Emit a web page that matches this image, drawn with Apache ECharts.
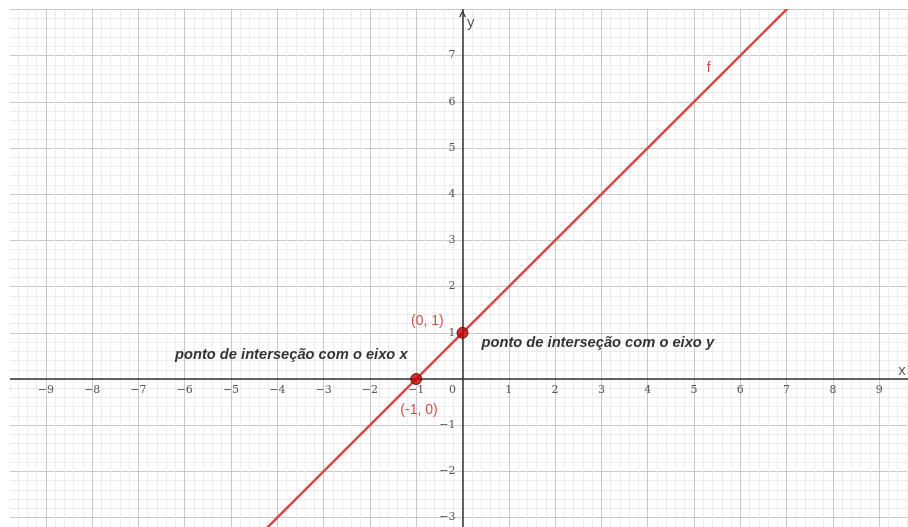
<!DOCTYPE html>
<html>
<head>
<meta charset="utf-8">
<script src="https://cdn.jsdelivr.net/npm/echarts@6/dist/echarts.min.js"></script>
<style>
  html, body { margin: 0; padding: 0; background: #fff; }
  #chart { width: 908px; height: 527px; }
</style>
</head>
<body>
<div id="chart"></div>
<script>
// f(x) = x + 1, two endpoints beyond the visible window
const lineF = [[-5, -4], [8, 9]];
// intersection points
const points = [[0, 1], [-1, 0]];
// annotations: text, anchor (data units), style key
const notes = [
  { text: "(0, 1)", at: [-0.76, 1.25], kind: "red" },
  { text: "(-1, 0)", at: [-0.94, -0.67], kind: "red" },
  { text: "f", at: [5.32, 6.73], kind: "red" },
  { text: "ponto de interseção com o eixo x", at: [-6.21, 0.52], kind: "bold" },
  { text: "ponto de interseção com o eixo y", at: [0.41, 0.78], kind: "bold" },
  { text: "x", at: [9.49, 0.17], kind: "axis" },
  { text: "y", at: [0.18, 7.71], kind: "axis" }
];
const xRange = [-10, 10];
const yRange = [-4, 8];

const chart = echarts.init(document.getElementById("chart"));

const serif = "DejaVu Serif, Liberation Serif, serif";
const tickFmt = v => (v === 0 ? "" : String(v).replace("-", "\u2212"));

const noteStyle = {
  red: { color: "#c81e1e", fontSize: 14, fontFamily: "Liberation Sans, Arial, sans-serif", align: "center" },
  bold: { color: "#000", fontSize: 14.7, fontWeight: "bold", fontStyle: "italic", fontFamily: "Liberation Sans, Arial, sans-serif", align: "left" },
  axis: { color: "#333", fontSize: 15, fontFamily: "Liberation Sans, Arial, sans-serif", align: "center" }
};

// grid is larger than the window so that whole-unit ticks start off screen
const grid = { left: -0.5, right: -17.5, top: 9.4, bottom: -36.8 };
const plotW = 908 - grid.left - grid.right;
const plotH = 527 - grid.top - grid.bottom;
// pixel distance from the grid edges to the zero lines
const xAxisOffset = -plotH * (0 - yRange[0]) / (yRange[1] - yRange[0]);
const yAxisOffset = -plotW * (0 - xRange[0]) / (xRange[1] - xRange[0]);

const option = {
  animation: false,
  backgroundColor: "#fff",
  grid: Object.assign({ containLabel: false, outerBoundsMode: "none" }, grid),
  xAxis: {
    type: "value",
    position: "bottom",
    offset: xAxisOffset,
    min: xRange[0],
    max: xRange[1],
    interval: 1,
    axisLine: { onZero: false, lineStyle: { color: "#333", width: 1.5 } },
    axisTick: { show: false },
    axisLabel: {
      margin: 6,
      color: "#555",
      fontSize: 11,
      fontFamily: serif,
      formatter: v => (v === 0 ? "{z|0}" : tickFmt(v)),
      rich: { z: { padding: [0, 20, 0, 0], color: "#555", fontSize: 11, fontFamily: serif } }
    },
    splitLine: { show: true, lineStyle: { color: "#c8c8c8", width: 1 } },
    minorTick: { show: false, splitNumber: 5 },
    minorSplitLine: { show: true, lineStyle: { color: "#ececec", width: 1 } }
  },
  yAxis: {
    type: "value",
    position: "left",
    offset: yAxisOffset,
    min: yRange[0],
    max: yRange[1],
    interval: 1,
    axisLine: {
      onZero: false,
      symbol: ["none", "path://M0,10 L5,0 L10,10 L8,10 L5,3.8 L2,10 Z"],
      symbolSize: [8, 7],
      symbolOffset: [0, -4],
      lineStyle: { color: "#333", width: 1.5 }
    },
    axisTick: { show: false },
    axisLabel: {
      margin: 7,
      color: "#555",
      fontSize: 11,
      fontFamily: serif,
      formatter: v => (v === yRange[1] ? "" : tickFmt(v))
    },
    splitLine: { show: true, lineStyle: { color: "#c8c8c8", width: 1 } },
    minorTick: { show: false, splitNumber: 5 },
    minorSplitLine: { show: true, lineStyle: { color: "#ececec", width: 1 } }
  },
  series: [
    {
      name: "f",
      type: "line",
      data: lineF,
      symbol: "none",
      lineStyle: { color: "#d64848", width: 2.5 },
      z: 3
    },
    {
      type: "scatter",
      data: points,
      symbolSize: 11,
      itemStyle: { color: "#c40000", borderColor: "#4a0000", borderWidth: 1 },
      z: 5
    },
    {
      type: "scatter",
      data: notes.map(n => ({ value: n.at, name: n.text, kind: n.kind })),
      symbolSize: 0,
      silent: true,
      z: 6,
      label: {
        show: true,
        position: "inside",
        formatter: p => p.name
      }
    }
  ],
  graphic: [
    { type: "rect", left: 0, top: 0, z: 100, shape: { width: 10, height: 527 }, style: { fill: "#fff" } },
    { type: "rect", left: 0, top: 0, z: 100, shape: { width: 908, height: 9 }, style: { fill: "#fff" } }
  ]
};

// per-note label styling
option.series[2].data.forEach(d => {
  d.label = Object.assign({ verticalAlign: "middle" }, noteStyle[d.kind]);
});

chart.setOption(option);
</script>
</body>
</html>
